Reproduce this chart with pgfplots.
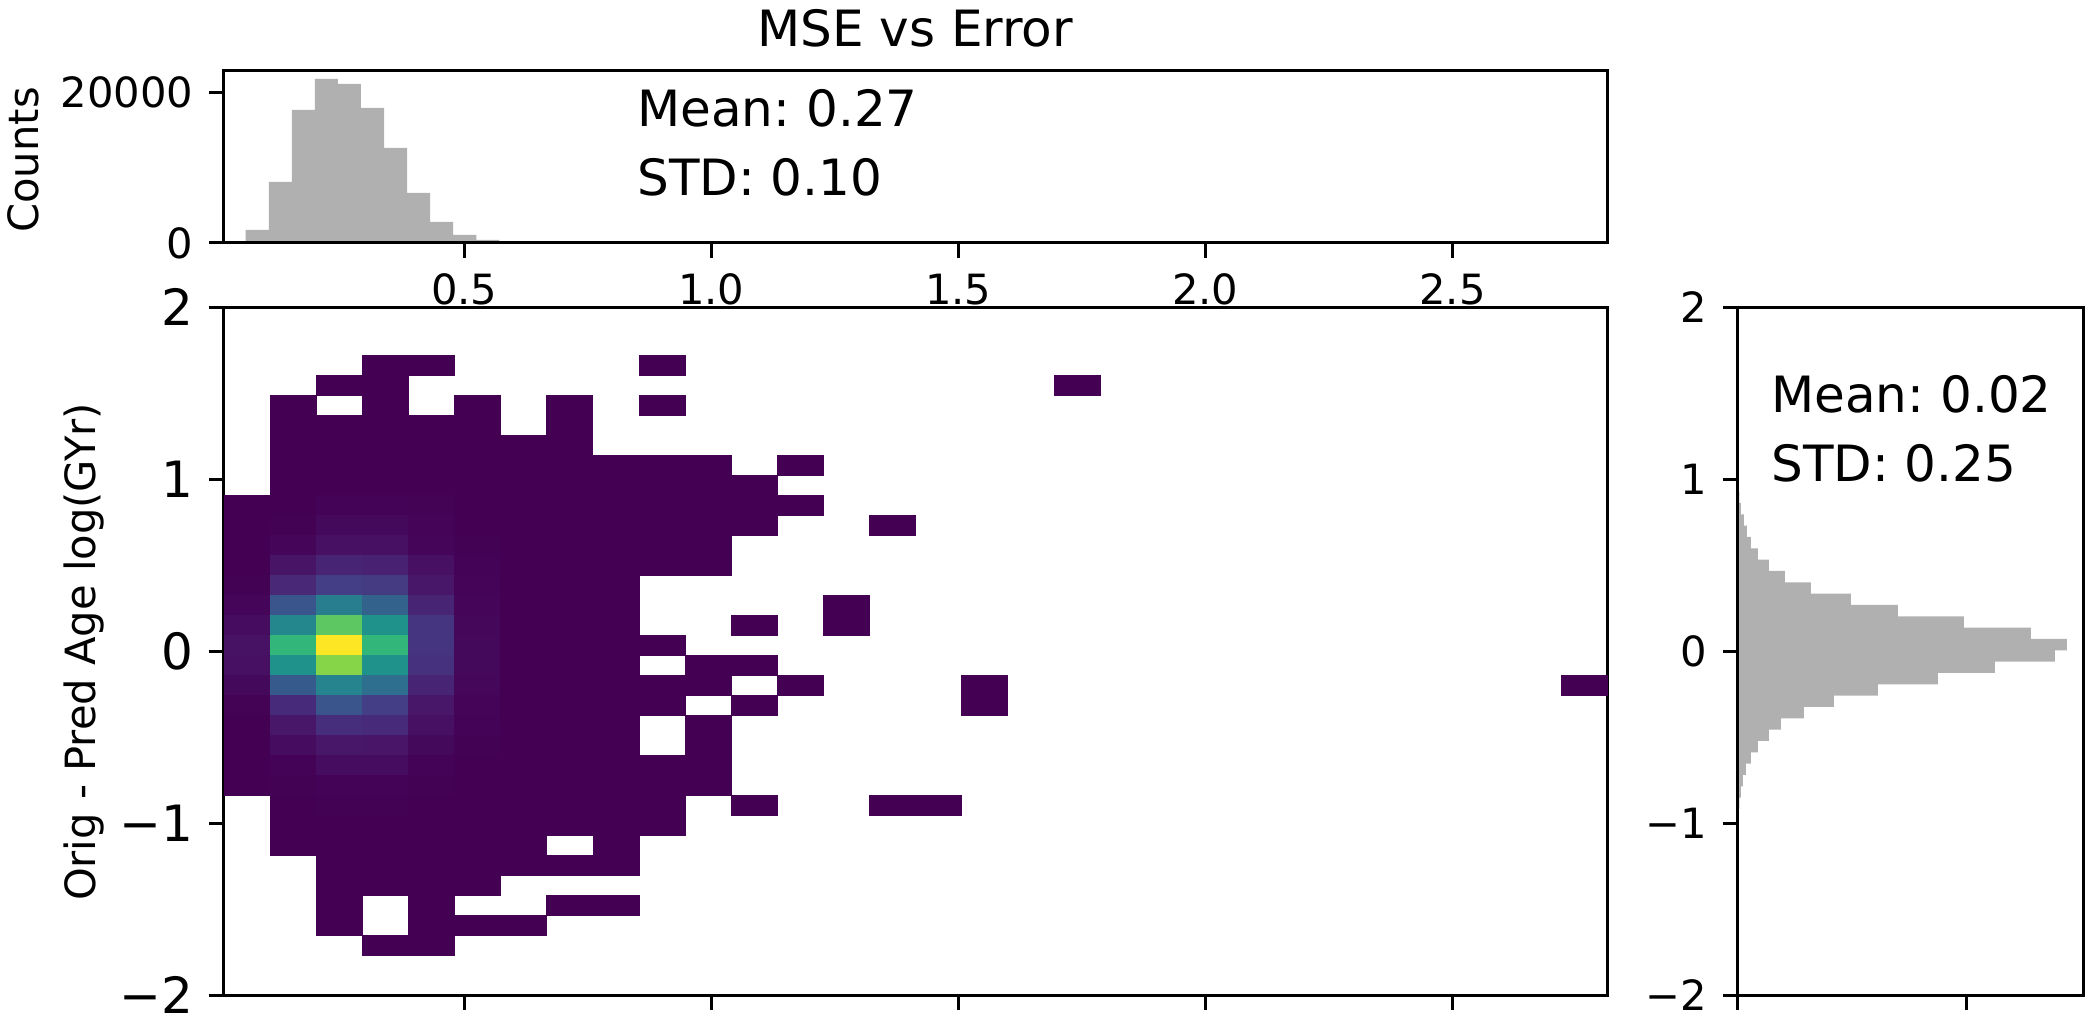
\documentclass[border=0pt]{standalone}
\usepackage{pgfplots}
\pgfplotsset{compat=1.18}
\usepackage{fontspec}
\setmainfont{DejaVu Sans}
\frenchspacing
\definecolor{hgray}{HTML}{B0B0B0}
\pgfdeclareplotmark{cell}{\pgfpathrectangle{\pgfpoint{-11.525pt}{-5pt}}{\pgfpoint{23.05pt}{10pt}}\pgfusepathqfillstroke}
\pgfplotsset{
  base/.style={
    scale only axis, enlargelimits=false, axis on top,
    scaled ticks=false,
    tick align=outside, major tick length=7.3pt, xtick pos=bottom, ytick pos=left,
    tick style={black,line width=1.5pt},
    axis line style={line width=1.5pt},
    y tick label style={inner sep=0pt,xshift=-7.8pt},
  }
}
\newcommand{\px}[2]{(#1*0.5pt,{(1019-#2)*0.5pt})}
\begin{document}
\begin{tikzpicture}
\path[use as bounding box] (0,0) rectangle (1047.5pt,509.5pt);
% top histogram
\begin{axis}[base, at={(111.85pt,388pt)}, anchor=south west, width=691.65pt, height=86pt,
  xmin=0.0129, xmax=2.813, ymin=0, ymax=22826,
  xtick={0.5,1,1.5,2,2.5}, xticklabels={0.5,1.0,1.5,2.0,2.5},
  ytick={0,20000}, yticklabels={0,20000},
  tick label style={font=\fontsize{20.83}{20.83}\selectfont},
  x tick label style={anchor=base,inner sep=0pt,xshift=0pt,yshift=-23.7pt}]
\addplot[ybar interval=1, fill=hgray, draw=none] coordinates {
(0.0575,1725)(0.1042,8096)(0.1508,17650)(0.1975,21766)(0.2442,21100)(0.2908,17917)(0.3375,12608)(0.3842,6636)(0.4309,2787)(0.4775,1062)(0.5242,400)(0.5709,150)(0.6175,50)(0.6642,20)(0.7109,0)};
\end{axis}
% main 2-d histogram
\begin{axis}[base, at={(111.85pt,11.85pt)}, anchor=south west, width=691.65pt, height=344pt,
  xmin=0.0129, xmax=2.813, ymin=-2, ymax=2,
  xtick={0.5,1,1.5,2,2.5}, xticklabels={},
  ytick={-2,-1,0,1,2}, yticklabels={−2,−1,0,1,2},
  tick label style={font=\fontsize{25}{25}\selectfont},
  colormap/viridis, point meta min=0, point meta max=1]
\addplot[scatter, only marks, mark=cell, point meta=explicit,
  mark options={line width=0.1pt},
  scatter/use mapped color={draw=mapped color,fill=mapped color}] coordinates {
(0.3396,1.6646)[0](0.4329,1.6646)[0](0.8996,1.6646)[0]
(0.2463,1.5483)[0](0.3396,1.5483)[0](1.7396,1.5483)[0]
(0.1529,1.4320)[0](0.3396,1.4320)[0](0.5263,1.4320)[0](0.7129,1.4320)[0](0.8996,1.4320)[0]
(0.1529,1.3157)[0](0.2463,1.3157)[0](0.3396,1.3157)[0](0.4329,1.3157)[0](0.5263,1.3157)[0](0.7129,1.3157)[0]
(0.1529,1.1994)[0](0.2463,1.1994)[0](0.3396,1.1994)[0](0.4329,1.1994)[0](0.5263,1.1994)[0](0.6196,1.1994)[0](0.7129,1.1994)[0]
(0.1529,1.0832)[0](0.2463,1.0832)[0](0.3396,1.0832)[0](0.4329,1.0832)[0](0.5263,1.0832)[0](0.6196,1.0832)[0](0.7129,1.0832)[0](0.8063,1.0832)[0](0.8996,1.0832)[0](0.9929,1.0832)[0](1.1796,1.0832)[0]
(0.1529,0.9669)[0](0.2463,0.9669)[0](0.3396,0.9669)[0](0.4329,0.9669)[0](0.5263,0.9669)[0](0.6196,0.9669)[0](0.7129,0.9669)[0](0.8063,0.9669)[0](0.8996,0.9669)[0](0.9929,0.9669)[0](1.0863,0.9669)[0]
(0.0596,0.8506)[0](0.1529,0.8506)[0](0.2463,0.8506)[0.006](0.3396,0.8506)[0.006](0.4329,0.8506)[0.004](0.5263,0.8506)[0](0.6196,0.8506)[0](0.7129,0.8506)[0](0.8063,0.8506)[0](0.8996,0.8506)[0](0.9929,0.8506)[0](1.0863,0.8506)[0](1.1796,0.8506)[0]
(0.0596,0.7343)[0](0.1529,0.7343)[0.003](0.2463,0.7343)[0.02](0.3396,0.7343)[0.02](0.4329,0.7343)[0.008](0.5263,0.7343)[0](0.6196,0.7343)[0](0.7129,0.7343)[0](0.8063,0.7343)[0](0.8996,0.7343)[0](0.9929,0.7343)[0](1.0863,0.7343)[0](1.3663,0.7343)[0]
(0.0596,0.6180)[0](0.1529,0.6180)[0.01](0.2463,0.6180)[0.04](0.3396,0.6180)[0.04](0.4329,0.6180)[0.01](0.5263,0.6180)[0.002](0.6196,0.6180)[0](0.7129,0.6180)[0](0.8063,0.6180)[0](0.8996,0.6180)[0](0.9929,0.6180)[0]
(0.0596,0.5018)[0](0.1529,0.5018)[0.05](0.2463,0.5018)[0.10](0.3396,0.5018)[0.09](0.4329,0.5018)[0.04](0.5263,0.5018)[0.005](0.6196,0.5018)[0](0.7129,0.5018)[0](0.8063,0.5018)[0](0.8996,0.5018)[0](0.9929,0.5018)[0]
(0.0596,0.3855)[0.002](0.1529,0.3855)[0.11](0.2463,0.3855)[0.18](0.3396,0.3855)[0.17](0.4329,0.3855)[0.06](0.5263,0.3855)[0.008](0.6196,0.3855)[0](0.7129,0.3855)[0](0.8063,0.3855)[0]
(0.0596,0.2692)[0.01](0.1529,0.2692)[0.26](0.2463,0.2692)[0.42](0.3396,0.2692)[0.31](0.4329,0.2692)[0.10](0.5263,0.2692)[0.01](0.6196,0.2692)[0](0.7129,0.2692)[0](0.8063,0.2692)[0](1.2729,0.2692)[0]
(0.0596,0.1529)[0.03](0.1529,0.1529)[0.46](0.2463,0.1529)[0.75](0.3396,0.1529)[0.51](0.4329,0.1529)[0.15](0.5263,0.1529)[0.015](0.6196,0.1529)[0](0.7129,0.1529)[0](0.8063,0.1529)[0](1.0863,0.1529)[0](1.2729,0.1529)[0]
(0.0596,0.0366)[0.045](0.1529,0.0366)[0.66](0.2463,0.0366)[1](0.3396,0.0366)[0.66](0.4329,0.0366)[0.15](0.5263,0.0366)[0.02](0.6196,0.0366)[0](0.7129,0.0366)[0](0.8063,0.0366)[0](0.8996,0.0366)[0]
(0.0596,-0.0796)[0.04](0.1529,-0.0796)[0.51](0.2463,-0.0796)[0.82](0.3396,-0.0796)[0.51](0.4329,-0.0796)[0.14](0.5263,-0.0796)[0.02](0.6196,-0.0796)[0](0.7129,-0.0796)[0](0.8063,-0.0796)[0](0.9929,-0.0796)[0](1.0863,-0.0796)[0]
(0.0596,-0.1959)[0.02](0.1529,-0.1959)[0.28](0.2463,-0.1959)[0.45](0.3396,-0.1959)[0.36](0.4329,-0.1959)[0.10](0.5263,-0.1959)[0.015](0.6196,-0.1959)[0](0.7129,-0.1959)[0](0.8063,-0.1959)[0](0.8996,-0.1959)[0](0.9929,-0.1959)[0](1.1796,-0.1959)[0](1.5529,-0.1959)[0](2.7662,-0.1959)[0]
(0.0596,-0.3122)[0.004](0.1529,-0.3122)[0.12](0.2463,-0.3122)[0.26](0.3396,-0.3122)[0.18](0.4329,-0.3122)[0.06](0.5263,-0.3122)[0.008](0.6196,-0.3122)[0](0.7129,-0.3122)[0](0.8063,-0.3122)[0](0.8996,-0.3122)[0](1.0863,-0.3122)[0](1.5529,-0.3122)[0]
(0.0596,-0.4285)[0](0.1529,-0.4285)[0.06](0.2463,-0.4285)[0.13](0.3396,-0.4285)[0.12](0.4329,-0.4285)[0.04](0.5263,-0.4285)[0.006](0.6196,-0.4285)[0](0.7129,-0.4285)[0](0.8063,-0.4285)[0](0.9929,-0.4285)[0]
(0.0596,-0.5448)[0](0.1529,-0.5448)[0.03](0.2463,-0.5448)[0.06](0.3396,-0.5448)[0.055](0.4329,-0.5448)[0.02](0.5263,-0.5448)[0.003](0.6196,-0.5448)[0](0.7129,-0.5448)[0](0.8063,-0.5448)[0](0.9929,-0.5448)[0]
(0.0596,-0.6610)[0](0.1529,-0.6610)[0.005](0.2463,-0.6610)[0.03](0.3396,-0.6610)[0.03](0.4329,-0.6610)[0.005](0.5263,-0.6610)[0](0.6196,-0.6610)[0](0.7129,-0.6610)[0](0.8063,-0.6610)[0](0.8996,-0.6610)[0](0.9929,-0.6610)[0]
(0.0596,-0.7773)[0](0.1529,-0.7773)[0.002](0.2463,-0.7773)[0.006](0.3396,-0.7773)[0.006](0.4329,-0.7773)[0.003](0.5263,-0.7773)[0](0.6196,-0.7773)[0](0.7129,-0.7773)[0](0.8063,-0.7773)[0](0.8996,-0.7773)[0](0.9929,-0.7773)[0]
(0.1529,-0.8936)[0](0.2463,-0.8936)[0.002](0.3396,-0.8936)[0.002](0.4329,-0.8936)[0](0.5263,-0.8936)[0](0.6196,-0.8936)[0](0.7129,-0.8936)[0](0.8063,-0.8936)[0](0.8996,-0.8936)[0](1.0863,-0.8936)[0](1.3663,-0.8936)[0](1.4596,-0.8936)[0]
(0.1529,-1.0099)[0](0.2463,-1.0099)[0](0.3396,-1.0099)[0](0.4329,-1.0099)[0](0.5263,-1.0099)[0](0.6196,-1.0099)[0](0.7129,-1.0099)[0](0.8063,-1.0099)[0](0.8996,-1.0099)[0]
(0.1529,-1.1262)[0](0.2463,-1.1262)[0](0.3396,-1.1262)[0](0.4329,-1.1262)[0](0.5263,-1.1262)[0](0.6196,-1.1262)[0](0.8063,-1.1262)[0]
(0.2463,-1.2424)[0](0.3396,-1.2424)[0](0.4329,-1.2424)[0](0.5263,-1.2424)[0](0.6196,-1.2424)[0](0.7129,-1.2424)[0](0.8063,-1.2424)[0]
(0.2463,-1.3587)[0](0.3396,-1.3587)[0](0.4329,-1.3587)[0](0.5263,-1.3587)[0]
(0.2463,-1.4750)[0](0.4329,-1.4750)[0](0.7129,-1.4750)[0](0.8063,-1.4750)[0]
(0.2463,-1.5913)[0](0.4329,-1.5913)[0](0.5263,-1.5913)[0](0.6196,-1.5913)[0]
(0.3396,-1.7076)[0](0.4329,-1.7076)[0]
};
\end{axis}
% right histogram
\begin{axis}[base, at={(868.85pt,11.85pt)}, anchor=south west, width=172.8pt, height=344pt,
  xmin=0, xmax=15138, ymin=-2, ymax=2,
  xtick={0,10000}, xticklabels={},
  ytick={-2,-1,0,1,2}, yticklabels={−2,−1,0,1,2},
  tick label style={font=\fontsize{20.83}{20.83}\selectfont}]
\addplot[xbar interval=1, fill=hgray, draw=none] coordinates {
(70,-0.9168)(143,-0.8509)(231,-0.785)(362,-0.7191)(581,-0.6532)(887,-0.5873)(1370,-0.5214)(1895,-0.4555)(2902,-0.3896)(4217,-0.3237)(6144,-0.2578)(8771,-0.1919)(11269,-0.126)(13896,-0.0601)(14422,0.0058)(12845,0.0717)(9910,0.1376)(7020,0.2035)(4961,0.2694)(3209,0.3353)(2070,0.4012)(1370,0.4671)(887,0.533)(581,0.5989)(405,0.6648)(274,0.7307)(143,0.7966)(70,0.8625)(0,0.9284)};
\end{axis}
% texts
\node[anchor=base, font=\fontsize{25}{25}\selectfont] at \px{915}{47} {MSE vs Error};
\node[anchor=base, rotate=90, font=\fontsize{20.83}{20.83}\selectfont] at \px{38}{160} {Counts};
\node[anchor=base, rotate=90, font=\fontsize{20.83}{20.83}\selectfont] at \px{95}{652} {Orig - Pred Age log(GYr)};
\node[anchor=base west, inner sep=0pt, font=\fontsize{25}{25}\selectfont] at \px{637}{127} {Mean: 0.27};
\node[anchor=base west, inner sep=0pt, font=\fontsize{25}{25}\selectfont] at \px{637}{196} {STD: 0.10};
\node[anchor=base west, inner sep=0pt, font=\fontsize{25}{25}\selectfont] at \px{1771}{413} {Mean: 0.02};
\node[anchor=base west, inner sep=0pt, font=\fontsize{25}{25}\selectfont] at \px{1771}{482} {STD: 0.25};
\end{tikzpicture}
\end{document}
